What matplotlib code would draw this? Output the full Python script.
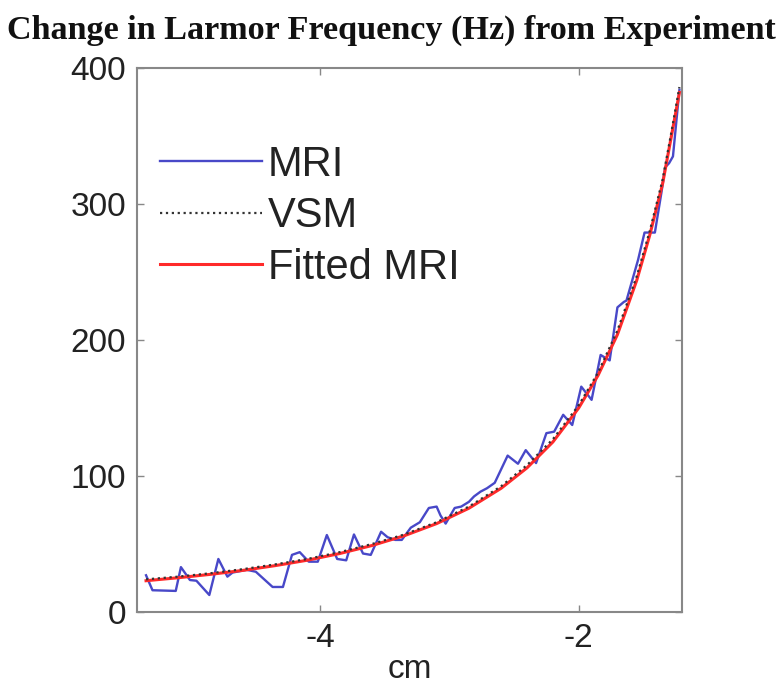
import matplotlib
matplotlib.use('Agg')
import matplotlib.pyplot as plt

mri_x = [-5.35, -5.30, -5.12, -5.08, -5.01, -4.96, -4.86, -4.79, -4.72, -4.68,
         -4.57, -4.50, -4.37, -4.29, -4.22, -4.16, -4.09, -4.02, -3.95, -3.87,
         -3.80, -3.74, -3.67, -3.61, -3.53, -3.48, -3.42, -3.37, -3.30, -3.23,
         -3.16, -3.10, -3.07, -3.03, -2.96, -2.91, -2.85, -2.81, -2.76, -2.71,
         -2.65, -2.55, -2.47, -2.41, -2.33, -2.25, -2.19, -2.12, -2.05, -1.98,
         -1.90, -1.83, -1.76, -1.70, -1.65, -1.63, -1.54, -1.49, -1.41, -1.36,
         -1.33, -1.30, -1.27, -1.22]
mri_y = [27, 16, 15.5, 33, 23.5, 23, 12.5, 39, 26, 29,
         31, 29.6, 18.4, 18.4, 42, 44, 37, 37, 56.6, 39,
         38, 57, 43, 42, 59, 55, 53, 53, 62, 66,
         76.5, 77.5, 71, 65, 76.5, 77.5, 81, 85, 88.5, 91,
         95, 115, 109, 119, 109.5, 131.5, 132.6, 145, 137.5, 165.7,
         156, 189, 185, 224, 228, 229, 259, 279, 279, 308,
         327, 330, 335, 384]

# VSM reference and fitted MRI curves
curve_x = [-5.35, -5.1, -4.85, -4.6, -4.35, -4.1, -3.85, -3.6, -3.35, -3.1,
           -2.85, -2.6, -2.4, -2.2, -2.0, -1.85, -1.7, -1.55, -1.45, -1.35,
           -1.28, -1.22]
vsm_y = [24, 26, 28.5, 31.5, 35, 39, 44, 50, 57, 66,
         77.5, 92.5, 108, 127, 152, 176, 207, 247, 280, 318,
         354, 386]
fit_y = [23, 25.2, 27.7, 30.6, 34.1, 38.1, 43.0, 48.9, 56.1, 65.0,
         76.3, 91, 106, 125, 150, 174, 204, 244, 277, 315,
         351, 382]

xticks = [-4, -2]
yticks = [0, 100, 200, 300, 400]

plt.rcParams['font.family'] = ['Liberation Sans', 'DejaVu Sans']
plt.rcParams['axes.unicode_minus'] = False

fig = plt.figure(figsize=(7.83, 6.84), dpi=100)
ax = fig.add_axes([137 / 783, 72 / 684, 545 / 783, 544 / 684])

ax.plot(mri_x, mri_y, color='#4848c8', lw=1.7, label='MRI')
ax.plot(curve_x, vsm_y, color='#333333', lw=1.6, ls=':', label='VSM', zorder=4)
ax.plot(curve_x, fit_y, color='#ff2a2a', lw=2.2, label='Fitted MRI', zorder=3)

ax.set_xlim(-5.42, -1.2)
ax.set_ylim(0, 400)
ax.set_xticks(xticks)
ax.set_yticks(yticks)
ax.tick_params(direction='in', top=True, right=True, length=5, width=1,
               color='#888888', labelsize=24, pad=8, labelcolor='#222222')
for s in ax.spines.values():
    s.set_color('#888888')
    s.set_linewidth(1.5)

ax.set_xlabel('cm', fontsize=24, color='#222222', labelpad=0)

leg = ax.legend(loc='upper left', bbox_to_anchor=(-0.012, 0.912), frameon=False,
                fontsize=30, handlelength=2.45, handletextpad=0.15,
                labelspacing=0.27, borderaxespad=0.3)
for t in leg.get_texts():
    t.set_color('#222222')

fig.text(0.5, 1 - 30 / 684, 'Change in Larmor Frequency (Hz) from Experiment',
         ha='center', va='center', fontsize=24.6, fontweight='bold',
         family='Liberation Serif', color='#111111')

fig.savefig('out.png', dpi=100)
plt.close(fig)
